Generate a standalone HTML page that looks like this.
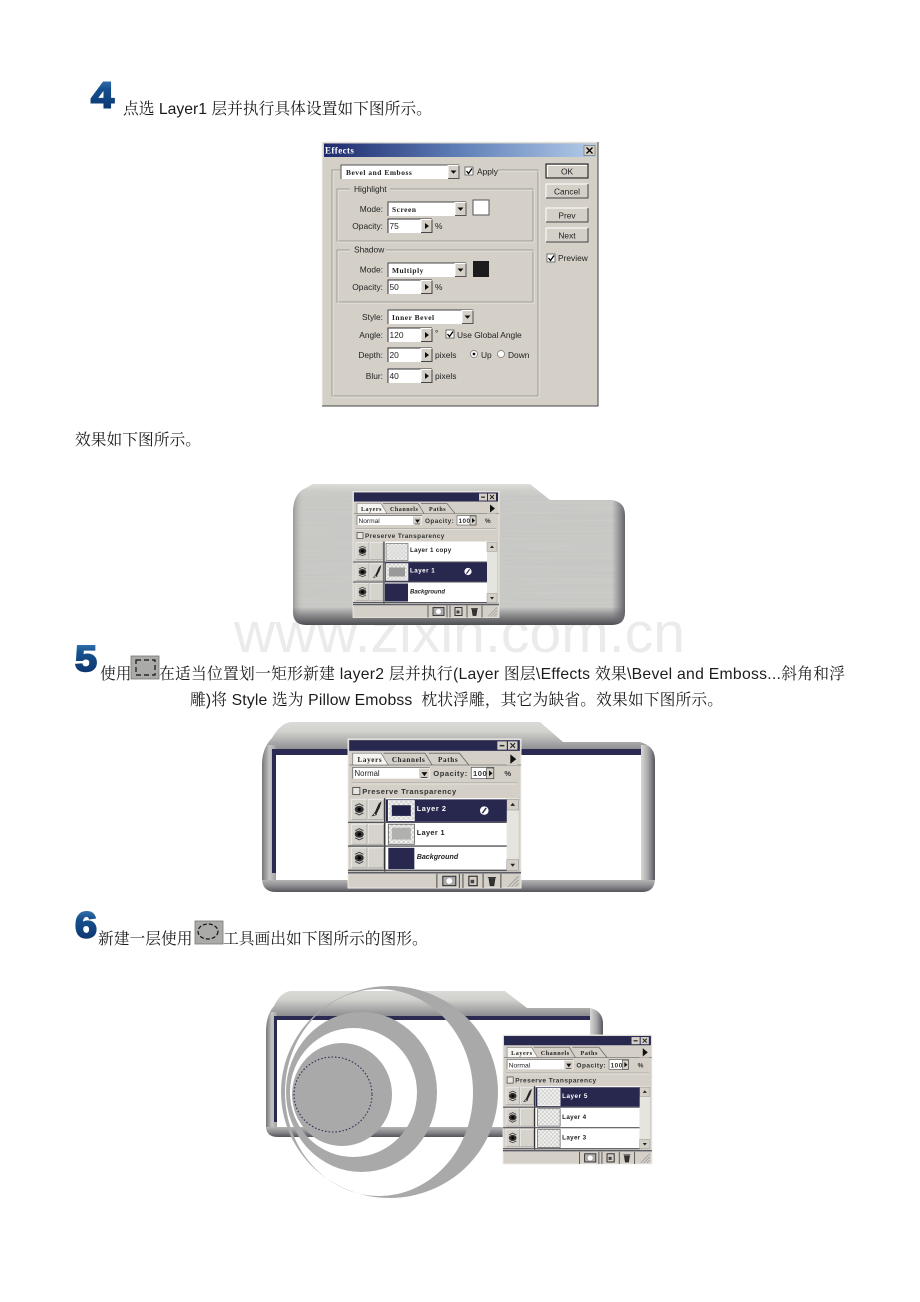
<!DOCTYPE html>
<html lang="zh-CN">
<head>
<meta charset="utf-8">
<title>Layer Effects</title>
<style>
html,body{margin:0;padding:0;background:#fff;width:920px;height:1302px;overflow:hidden}
svg{display:block}
.t{font-family:"Liberation Sans","Noto Serif CJK SC",serif;font-size:15.75px;fill:#1c1c1c}
.d{font-family:"Liberation Sans",sans-serif;font-weight:bold;font-size:36px;fill:url(#blue);stroke:url(#blue);stroke-width:1.9px}
.ui{font-family:"Liberation Sans",sans-serif;font-size:8.4px;fill:#222}
.uim{font-family:"Liberation Serif",serif;font-weight:bold;font-size:7.4px;fill:#222;letter-spacing:.55px}
.pt{font-family:"Liberation Serif",serif;font-weight:bold;font-size:6px;fill:#222;letter-spacing:.55px}
.ps{font-family:"Liberation Sans",sans-serif;font-size:6.6px;fill:#222;letter-spacing:.35px}
.pb{font-family:"Liberation Sans",sans-serif;font-weight:bold;font-size:6.2px;fill:#222;letter-spacing:.3px}
.pw{font-family:"Liberation Sans",sans-serif;font-weight:bold;font-size:6.2px;fill:#fff;letter-spacing:.5px}
.pi{font-family:"Liberation Sans",sans-serif;font-weight:bold;font-style:italic;font-size:6px;fill:#222}
.pd{font-family:"Liberation Sans",sans-serif;font-weight:bold;font-size:6.4px;fill:#333;letter-spacing:.45px}
</style>
</head>
<body>
<svg width="920" height="1302" viewBox="0 0 920 1302" xmlns="http://www.w3.org/2000/svg">
<defs>
<linearGradient id="blue" x1="0" y1="0" x2="0" y2="1">
  <stop offset="0" stop-color="#4b8cc0"/><stop offset=".35" stop-color="#15508f"/><stop offset="1" stop-color="#0b2f66"/>
</linearGradient>
<linearGradient id="title" x1="0" y1="0" x2="1" y2="0">
  <stop offset="0" stop-color="#1e2a6c"/><stop offset=".5" stop-color="#5f7fb8"/><stop offset="1" stop-color="#b4cbe8"/>
</linearGradient>
<linearGradient id="tb1" x1="0" y1="0" x2="0" y2="1"><stop offset="0" stop-color="#e2e2de"/><stop offset="1" stop-color="#c8c8c4" stop-opacity="0"/></linearGradient>
<linearGradient id="bb1" x1="0" y1="0" x2="0" y2="1"><stop offset="0" stop-color="#5a5a60" stop-opacity="0"/><stop offset=".75" stop-color="#66666a"/><stop offset="1" stop-color="#46464e"/></linearGradient>
<linearGradient id="rb1" x1="0" y1="0" x2="1" y2="0"><stop offset="0" stop-color="#6a6a70" stop-opacity="0"/><stop offset="1" stop-color="#5a5a62"/></linearGradient>
<linearGradient id="lb1" x1="0" y1="0" x2="1" y2="0"><stop offset="0" stop-color="#9a9a98"/><stop offset="1" stop-color="#c8c8c4" stop-opacity="0"/></linearGradient>
<linearGradient id="topband" x1="0" y1="0" x2="0" y2="1"><stop offset="0" stop-color="#dcdcd8"/><stop offset=".4" stop-color="#d0d0cc"/><stop offset="1" stop-color="#8c8c90"/></linearGradient>
<linearGradient id="side" x1="0" y1="0" x2="1" y2="0"><stop offset="0" stop-color="#75757a"/><stop offset=".55" stop-color="#c6c6c4"/><stop offset="1" stop-color="#a0a0a4"/></linearGradient>
<linearGradient id="sideR" x1="0" y1="0" x2="1" y2="0"><stop offset="0" stop-color="#d8d8d4"/><stop offset=".5" stop-color="#a8a8aa"/><stop offset="1" stop-color="#55555e"/></linearGradient>
<linearGradient id="botband" x1="0" y1="0" x2="0" y2="1"><stop offset="0" stop-color="#b4b4b2"/><stop offset=".5" stop-color="#8c8c90"/><stop offset="1" stop-color="#55555c"/></linearGradient>
<pattern id="chk" width="4" height="4" patternUnits="userSpaceOnUse">
  <rect width="4" height="4" fill="#f2f2f0"/><rect width="2" height="2" fill="#d2d2d0"/><rect x="2" y="2" width="2" height="2" fill="#d2d2d0"/>
</pattern>
<filter id="brush" x="0" y="0" width="100%" height="100%">
  <feTurbulence type="fractalNoise" baseFrequency=".006 .55" numOctaves="2" seed="4"/>
  <feColorMatrix values="0 0 0 0 .4  0 0 0 0 .4  0 0 0 0 .4  0 0 0 .3 -.09"/>
</filter>
<filter id="soft" x="-2%" y="-2%" width="104%" height="104%"><feGaussianBlur stdDeviation=".3"/></filter>
<clipPath id="c1"><path d="M293 512Q293 497 302 490L313 484L530 484L550 500L612 500Q625 502 625 515L625 612Q625 625 612 625L306 625Q293 625 293 612Z"/></clipPath>
<clipPath id="c2"><path d="M262 765Q262 748 272 738Q280 724 290 722L540 722L563 742L640 742Q655 746 655 760L655 878Q655 892 642 892L276 892Q262 892 262 878Z"/></clipPath>
<clipPath id="c3"><path d="M266 1032Q266 1015 274 1006Q280 993 290 991L505 991L527 1008L590 1008Q603 1011 603 1024L603 1126Q603 1137 592 1137L278 1137Q266 1137 266 1126Z"/></clipPath>

<g id="tri"><path d="M0 0L6 0L3 3.2Z" fill="#111"/></g>
<g id="btn"><rect width="11" height="13" fill="#d4d0c8"/><path d="M0 13L0 0L11 0" fill="none" stroke="#fff"/><path d="M11 0L11 13L0 13" fill="none" stroke="#555"/></g>
<g id="btnr"><rect width="11" height="13" fill="#d4d0c8"/><path d="M0 13L0 0L11 0" fill="none" stroke="#fff"/><path d="M11 0L11 13L0 13" fill="none" stroke="#444"/><path d="M4 3.5L8 6.5L4 9.5Z" fill="#111"/></g>

<g id="eye"><ellipse cx="6.5" cy="8.5" rx="3.8" ry="3" fill="#333"/><circle cx="6.5" cy="8.5" r="1.4" fill="#000"/><path d="M3 5.5L6.5 3.8L10 5.5M3 11.5L6.5 13.2L10 11.5" fill="none" stroke="#444" stroke-width=".8"/></g>
<g id="cell"><rect width="13" height="17" fill="#d6d3cc"/><path d="M0 17L0 0L13 0" fill="none" stroke="#eee" stroke-width=".7"/><path d="M13 0L13 17L0 17" fill="none" stroke="#aaa" stroke-width=".7"/></g>
<g id="fx"><circle r="3.6" fill="#fff"/><path d="M-1.6 2.2L1.6 -2.2" stroke="#28284f" stroke-width="1.2"/></g>

<g id="pbase">
  <rect width="146" height="126" fill="#d4d0c8"/>
  <rect x="0" y="0" width="146" height="126" fill="none" stroke="#efede8" stroke-width=".8"/>
  <rect x="1" y="1" width="144" height="9" fill="#28284f"/>
  <rect x="126" y="2" width="8" height="7" fill="#d4d0c8"/><rect x="128" y="5" width="4" height="1.3" fill="#333"/>
  <rect x="135" y="2" width="8" height="7" fill="#d4d0c8"/><path d="M137 3.5L141 7.5M141 3.5L137 7.5" stroke="#222" stroke-width="1"/>
  <path d="M1 22L146 22" stroke="#8a8a86" stroke-width=".8"/>
  <path d="M4 22L4 12L28 12L34 22Z" fill="#f6f5f1" stroke="#777" stroke-width=".6"/>
  <path d="M30 12L65 12L71 22M68 12L94 12L102 22" fill="none" stroke="#666" stroke-width=".7"/>
  <rect x="134" y="12" width="9" height="10" fill="#d4d0c8"/><path d="M137 13L142 17L137 21Z" fill="#111"/>
  <rect x="4" y="24" width="65" height="9.5" fill="#fff"/><path d="M4 33.5L4 24L69 24" fill="none" stroke="#666" stroke-width=".7"/>
  <rect x="60" y="25" width="8.5" height="8" fill="#d4d0c8"/><path d="M62 28L67 28L64.500 31.500Z" fill="#111"/><path d="M61.500 32.500L67 32.500" stroke="#111" stroke-width=".6"/>
  <rect x="104" y="24" width="19" height="9.5" fill="#fff" stroke="#555" stroke-width=".6"/>
  <rect x="117" y="24.500" width="6" height="9" fill="#d4d0c8" stroke="#333" stroke-width=".5"/><path d="M119 26.500L122 29L119 31.500Z" fill="#111"/>
  <path d="M3 37L143 37" stroke="#aaa8a2" stroke-width=".7"/><path d="M3 38L143 38" stroke="#f0eee8" stroke-width=".6"/>
  <rect x="4" y="41" width="6" height="6" fill="#e8e6e0" stroke="#444" stroke-width=".7"/>
  <rect x="31" y="50" width="103" height="61" fill="#fff"/>
  <path d="M31 50L31 112" stroke="#333" stroke-width="1.2"/>
  <use href="#cell" x="3" y="51"/><use href="#cell" x="17" y="51"/>
  <use href="#cell" x="3" y="72"/><use href="#cell" x="17" y="72"/>
  <use href="#cell" x="3" y="92"/><use href="#cell" x="17" y="92"/>
  <use href="#eye" x="3" y="51"/><use href="#eye" x="3" y="72"/><use href="#eye" x="3" y="92"/>
  <path d="M0 70.500L134 70.500M0 90.500L134 90.500M0 111L134 111" stroke="#55555c" stroke-width="1.1"/>
  <rect x="134" y="50" width="10" height="61" fill="#e6e4de"/>
  <rect x="134" y="51" width="10" height="9" fill="#d4d0c8" stroke="#999" stroke-width=".5"/><path d="M137 56.500L139 54L141 56.500Z" fill="#222"/>
  <rect x="134" y="102" width="10" height="9" fill="#d4d0c8" stroke="#999" stroke-width=".5"/><path d="M137 105.500L139 108L141 105.500Z" fill="#222"/>
  <path d="M0 113L146 113" stroke="#5c5c66" stroke-width="1.4"/>
  <path d="M75 114L75 126M94 114L94 126M97 114L97 126M114 114L114 126M129 114L129 126" stroke="#555" stroke-width=".9"/>
  <rect x="80" y="116" width="11" height="8" fill="#aaa" stroke="#222" stroke-width=".8"/><circle cx="85.500" cy="120" r="2.500" fill="#fff"/>
  <rect x="102" y="116" width="7" height="8" fill="#d4d0c8" stroke="#222" stroke-width=".9"/><rect x="103.500" y="119" width="3" height="3" fill="#444"/>
  <path d="M118 117L125 117M119 118L120 124L123 124L124 118Z" fill="#333" stroke="#222" stroke-width=".7"/>
  <path d="M135 125L144 116M138 125L144 119M141 125L144 122" stroke="#999" stroke-width=".7"/>
</g>
<g id="brsh"><path d="M5 13L9 4L11 2L9.500 7L6.500 13Z" fill="#222" stroke="#222" stroke-width=".5"/><path d="M3.500 14L5.500 11.500L7 13Z" fill="#fff" stroke="#222" stroke-width=".6"/></g>
</defs>

<rect width="920" height="1302" fill="#fff"/>

<!-- watermark -->
<text x="234" y="652" font-family="'Liberation Sans',sans-serif" font-size="57" fill="#ebebeb" textLength="451" lengthAdjust="spacing">www.zixin.com.cn</text>

<!-- step numerals and copy -->
<text class="d" x="91" y="107.500" textLength="23" lengthAdjust="spacingAndGlyphs">4</text>
<text class="t" x="123" y="114">点选 Layer1 层并执行具体设置如下图所示。</text>
<text class="t" x="75" y="445">效果如下图所示。</text>

<text class="d" x="75" y="671" textLength="22" lengthAdjust="spacingAndGlyphs">5</text>
<text class="t" x="100" y="679">使用</text>
<rect x="131" y="656" width="28" height="23" fill="#aaaaa8" stroke="#777" stroke-width=".8"/>
<rect x="136" y="660" width="19" height="15" fill="none" stroke="#111" stroke-width="1.2" stroke-dasharray="5 3"/>
<text class="t" x="159" y="679" textLength="686" lengthAdjust="spacing">在适当位置划一矩形新建 layer2 层并执行(Layer 图层\Effects 效果\Bevel and Emboss...斜角和浮</text>
<text class="t" x="190" y="705" textLength="533" lengthAdjust="spacing">雕)将 Style 选为 Pillow Emobss&#160;&#160;枕状浮雕，其它为缺省。效果如下图所示。</text>

<text class="d" x="75" y="937.500" textLength="22" lengthAdjust="spacingAndGlyphs">6</text>
<text class="t" x="98" y="944">新建一层使用</text>
<rect x="195" y="921" width="28" height="23" fill="#aaaaa8" stroke="#777" stroke-width=".8"/>
<ellipse cx="208" cy="931.500" rx="10" ry="7.500" fill="none" stroke="#111" stroke-width="1.2" stroke-dasharray="4 2"/>
<text class="t" x="223" y="944">工具画出如下图所示的图形。</text>

<!-- Effects dialog -->
<g filter="url(#soft)">
  <rect x="322" y="142" width="276" height="264" fill="#d4d0c8"/>
  <path d="M322 406L322 142L598 142" fill="none" stroke="#f4f2ec"/>
  <path d="M598 142L598 406L322 406" fill="none" stroke="#444"/>
  <rect x="324" y="143.500" width="272" height="13.500" fill="url(#title)"/>
  <text x="325" y="153.500" font-family="'Liberation Serif',serif" font-weight="bold" font-size="9" fill="#fff" letter-spacing=".4">Effects</text>
  <rect x="584" y="145.500" width="11" height="10" fill="#d4d0c8" stroke="#555" stroke-width=".5"/>
  <path d="M586.500 147.500L592.500 153.500M592.500 147.500L586.500 153.500" stroke="#000" stroke-width="1.3"/>

  <rect x="332" y="170" width="206" height="226" fill="none" stroke="#9c9a94"/>
  <rect x="333" y="171" width="206" height="226" fill="none" stroke="#f4f2ec" stroke-width=".6"/>
  <rect x="340" y="164" width="158" height="16" fill="#d4d0c8"/>

  <rect x="341" y="165" width="118" height="14" fill="#fff"/>
  <path d="M341 179L341 165L459 165" fill="none" stroke="#555"/>
  <use href="#btn" x="448" y="165.500"/><use href="#tri" x="450.500" y="170.500"/>
  <text class="uim" x="346" y="175">Bevel and Emboss</text>

  <rect x="465" y="167" width="8" height="8" fill="#fff" stroke="#555" stroke-width=".8"/>
  <path d="M466.500 171L468.500 173.500L472 168.500" fill="none" stroke="#000" stroke-width="1.3"/>
  <text class="ui" x="477" y="174.500">Apply</text>

  <rect x="337" y="189" width="196" height="52" fill="none" stroke="#9c9a94"/>
  <rect x="338" y="190" width="196" height="52" fill="none" stroke="#f4f2ec" stroke-width=".6"/>
  <rect x="350" y="185" width="40" height="8" fill="#d4d0c8"/>
  <text class="ui" x="354" y="192">Highlight</text>

  <text class="ui" x="383" y="212" text-anchor="end">Mode:</text>
  <rect x="388" y="202" width="78" height="14" fill="#fff"/>
  <path d="M388 216L388 202L466 202" fill="none" stroke="#444"/>
  <use href="#btn" x="455" y="202.500"/><use href="#tri" x="457.500" y="207.500"/>
  <text class="uim" x="392" y="212">Screen</text>
  <rect x="473" y="200" width="16" height="15" fill="#fff" stroke="#555"/>

  <text class="ui" x="383" y="229" text-anchor="end">Opacity:</text>
  <rect x="388" y="219" width="33" height="14" fill="#fff"/>
  <path d="M388 233L388 219L432 219" fill="none" stroke="#333"/>
  <use href="#btnr" x="421" y="219.500"/>
  <text class="ui" x="389.500" y="229">75</text>
  <text class="ui" x="435" y="229">%</text>

  <rect x="337" y="250" width="196" height="52" fill="none" stroke="#9c9a94"/>
  <rect x="338" y="251" width="196" height="52" fill="none" stroke="#f4f2ec" stroke-width=".6"/>
  <rect x="350" y="245" width="36" height="8" fill="#d4d0c8"/>
  <text class="ui" x="354" y="252.500">Shadow</text>

  <text class="ui" x="383" y="272.500" text-anchor="end">Mode:</text>
  <rect x="388" y="263" width="78" height="14" fill="#fff"/>
  <path d="M388 277L388 263L466 263" fill="none" stroke="#444"/>
  <use href="#btn" x="455" y="263.500"/><use href="#tri" x="457.500" y="268.500"/>
  <text class="uim" x="392" y="273">Multiply</text>
  <rect x="473" y="261" width="16" height="16" fill="#1c1c1c"/>

  <text class="ui" x="383" y="290" text-anchor="end">Opacity:</text>
  <rect x="388" y="280" width="33" height="14" fill="#fff"/>
  <path d="M388 294L388 280L432 280" fill="none" stroke="#333"/>
  <use href="#btnr" x="421" y="280.500"/>
  <text class="ui" x="389.500" y="290">50</text>
  <text class="ui" x="435" y="290">%</text>

  <text class="ui" x="383" y="320" text-anchor="end">Style:</text>
  <rect x="388" y="310" width="85" height="14" fill="#fff"/>
  <path d="M388 324L388 310L473 310" fill="none" stroke="#444"/>
  <use href="#btn" x="462" y="310.500"/><use href="#tri" x="464.500" y="315.500"/>
  <text class="uim" x="392" y="320">Inner Bevel</text>

  <text class="ui" x="383" y="338" text-anchor="end">Angle:</text>
  <rect x="388" y="328" width="33" height="14" fill="#fff"/>
  <path d="M388 342L388 328L432 328" fill="none" stroke="#333"/>
  <use href="#btnr" x="421" y="328.500"/>
  <text class="ui" x="389.500" y="338">120</text>
  <text class="ui" x="435" y="336">°</text>
  <rect x="446" y="330" width="8" height="8" fill="#fff" stroke="#555" stroke-width=".8"/>
  <path d="M447.500 334L449.500 336.500L453 331.500" fill="none" stroke="#000" stroke-width="1.3"/>
  <text class="ui" x="457" y="338">Use Global Angle</text>

  <text class="ui" x="383" y="358" text-anchor="end">Depth:</text>
  <rect x="388" y="348" width="33" height="14" fill="#fff"/>
  <path d="M388 362L388 348L432 348" fill="none" stroke="#333"/>
  <use href="#btnr" x="421" y="348.500"/>
  <text class="ui" x="389.500" y="358">20</text>
  <text class="ui" x="435" y="358">pixels</text>
  <circle cx="474" cy="354" r="3.500" fill="#fff" stroke="#777" stroke-width=".7"/><circle cx="474" cy="354" r="1.400" fill="#111"/>
  <text class="ui" x="481" y="358">Up</text>
  <circle cx="501" cy="354" r="3.500" fill="#fff" stroke="#777" stroke-width=".7"/>
  <text class="ui" x="508" y="358">Down</text>

  <text class="ui" x="383" y="379" text-anchor="end">Blur:</text>
  <rect x="388" y="369" width="33" height="14" fill="#fff"/>
  <path d="M388 383L388 369L432 369" fill="none" stroke="#333"/>
  <use href="#btnr" x="421" y="369.500"/>
  <text class="ui" x="389.500" y="379">40</text>
  <text class="ui" x="435" y="379">pixels</text>

  <rect x="546" y="164" width="42" height="14" fill="#d4d0c8" stroke="#111"/>
  <path d="M547.500 177L547.500 165.500L587 165.500" fill="none" stroke="#fff"/>
  <text class="ui" x="567" y="174.500" text-anchor="middle">OK</text>
  <rect x="546" y="184" width="42" height="14" fill="#d4d0c8"/>
  <path d="M546 198L546 184L588 184" fill="none" stroke="#fff"/><path d="M588 184L588 198L546 198" fill="none" stroke="#444"/>
  <text class="ui" x="567" y="194.500" text-anchor="middle">Cancel</text>
  <rect x="546" y="208" width="42" height="14" fill="#d4d0c8"/>
  <path d="M546 222L546 208L588 208" fill="none" stroke="#fff"/><path d="M588 208L588 222L546 222" fill="none" stroke="#444"/>
  <text class="ui" x="567" y="218.500" text-anchor="middle">Prev</text>
  <rect x="546" y="228" width="42" height="14" fill="#d4d0c8"/>
  <path d="M546 242L546 228L588 228" fill="none" stroke="#fff"/><path d="M588 228L588 242L546 242" fill="none" stroke="#444"/>
  <text class="ui" x="567" y="238.500" text-anchor="middle">Next</text>
  <rect x="547" y="254" width="8" height="8" fill="#fff" stroke="#555" stroke-width=".8"/>
  <path d="M548.500 258L550.500 260.500L554 255.500" fill="none" stroke="#000" stroke-width="1.3"/>
  <text class="ui" x="558" y="261">Preview</text>
</g>

<!-- Layer shape 1 -->
<g clip-path="url(#c1)" filter="url(#soft)">
  <rect x="290" y="480" width="340" height="150" fill="#cacac7"/>
  <rect x="290" y="480" width="340" height="150" filter="url(#brush)"/>
  <rect x="290" y="483" width="340" height="14" fill="url(#tb1)"/>
  <rect x="293" y="480" width="11" height="150" fill="url(#lb1)"/>
  <rect x="612" y="480" width="14" height="150" fill="url(#rb1)"/>
  <rect x="290" y="607" width="340" height="19" fill="url(#bb1)"/>
</g>

<!-- Panel 1 -->
<g transform="translate(353 491.500)">
  <use href="#pbase"/>
  <path d="M32 71H134V90H32Z" fill="#28284f"/>
  <rect x="33" y="52" width="22" height="17" fill="url(#chk)" stroke="#555" stroke-width=".6"/>
  <rect x="37" y="55" width="15" height="11" fill="#dededc" opacity=".6"/>
  <rect x="33" y="72" width="22" height="17" fill="url(#chk)" stroke="#eee" stroke-width=".6"/>
  <rect x="36" y="76" width="16" height="9" fill="#999"/>
  <rect x="32" y="92" width="23" height="18" fill="#28284f"/>
  <use href="#brsh" x="17" y="72"/>
  <use href="#fx" transform="translate(115 80)"/>
  <text class="pt" x="8" y="19.500">Layers</text>
  <text class="pt" x="37" y="19.500">Channels</text>
  <text class="pt" x="76" y="19.500">Paths</text>
  <text class="ps" x="5.500" y="31.500" style="letter-spacing:0">Normal</text>
  <text class="pd" x="72" y="31.500">Opacity:</text>
  <text class="pd" x="105.500" y="31.500">100</text>
  <text class="pd" x="132" y="31.500">%</text>
  <text class="pd" x="12" y="46.500">Preserve Transparency</text>
  <text class="pb" x="57" y="60.500">Layer 1 copy</text>
  <text class="pw" x="57" y="81">Layer 1</text>
  <text class="pi" x="57" y="102">Background</text>
</g>

<!-- Layer shape 2 -->
<g clip-path="url(#c2)" filter="url(#soft)">
  <rect x="260" y="720" width="400" height="175" fill="#b8b8b6"/>
  <rect x="260" y="720" width="400" height="30" fill="url(#topband)"/>
  <rect x="262" y="745" width="14" height="140" fill="url(#side)"/>
  <rect x="641" y="745" width="14" height="140" fill="url(#sideR)"/>
  <rect x="262" y="880" width="393" height="12" fill="url(#botband)"/>
  <rect x="272" y="749" width="369" height="6" fill="#2c2c52"/>
  <rect x="272" y="749" width="4" height="124" fill="#2c2c52"/>
  <rect x="276" y="755" width="365" height="125" fill="#fff"/>
</g>

<!-- Panel 2 -->
<g transform="translate(348 739) scale(1.185 1.183)">
  <use href="#pbase"/>
  <path d="M32 51H134V70H32Z" fill="#28284f"/>
  <rect x="34" y="52" width="22" height="17" fill="url(#chk)" stroke="#fff" stroke-width=".6"/>
  <rect x="37" y="56" width="16" height="9" fill="#222248"/>
  <rect x="34" y="72" width="22" height="17" fill="url(#chk)" stroke="#444" stroke-width=".6"/>
  <rect x="37" y="75" width="16" height="10" fill="#b0b0ae"/>
  <rect x="34" y="92" width="22" height="18" fill="#28284f"/>
  <use href="#brsh" x="17" y="51"/>
  <use href="#fx" transform="translate(115 60.500)"/>
  <text class="pt" x="8" y="19.500">Layers</text>
  <text class="pt" x="37" y="19.500">Channels</text>
  <text class="pt" x="76" y="19.500">Paths</text>
  <text class="ps" x="5.500" y="31.500" style="letter-spacing:0">Normal</text>
  <text class="pd" x="72" y="31.500">Opacity:</text>
  <text class="pd" x="105.500" y="31.500">100</text>
  <text class="pd" x="132" y="31.500">%</text>
  <text class="pd" x="12" y="46.500">Preserve Transparency</text>
  <text class="pw" x="58" y="61">Layer 2</text>
  <text class="pb" x="58" y="81">Layer 1</text>
  <text class="pi" x="58" y="101.500">Background</text>
</g>

<!-- Layer shape 3 -->
<g clip-path="url(#c3)" filter="url(#soft)">
  <rect x="264" y="989" width="342" height="150" fill="#b8b8b6"/>
  <rect x="264" y="989" width="342" height="27" fill="url(#topband)"/>
  <rect x="266" y="1012" width="11" height="118" fill="url(#side)"/>
  <rect x="590" y="1005" width="13" height="125" fill="url(#sideR)"/>
  <rect x="266" y="1127" width="337" height="10" fill="url(#botband)"/>
  <rect x="274" y="1016" width="316" height="4" fill="#2c2c52"/>
  <rect x="274" y="1016" width="3" height="106" fill="#2c2c52"/>
  <rect x="277" y="1020" width="313" height="107" fill="#fff"/>
</g>

<!-- Rings: compound paths so the frame shows through -->
<g fill="#a9a9a9" fill-rule="evenodd">
  <path d="M281 1092a108.500 106 0 1 0 217 0a108.500 106 0 1 0 -217 0ZM285 1092.500a94 103.500 0 1 0 188 0a94 103.500 0 1 0 -188 0Z"/>
  <path d="M286 1092a75.500 80 0 1 0 151 0a75.500 80 0 1 0 -151 0ZM290 1092.500a63.500 64.500 0 1 0 127 0a63.500 64.500 0 1 0 -127 0Z"/>
  <ellipse cx="342" cy="1094.500" rx="50" ry="51.500"/>
</g>
<ellipse cx="333" cy="1094.500" rx="39" ry="37.500" fill="none" stroke="#2c2c52" stroke-width="1.100" stroke-dasharray="1.500 2"/>

<!-- Panel 3 -->
<g transform="translate(503 1035) scale(1.02 1.024)">
  <use href="#pbase"/>
  <path d="M32 51H134V70H32Z" fill="#28284f"/>
  <rect x="34" y="52" width="22" height="17" fill="url(#chk)" stroke="#fff" stroke-width=".6"/>
  <rect x="34" y="72" width="22" height="17" fill="url(#chk)" stroke="#444" stroke-width=".6"/>
  <rect x="34" y="92" width="22" height="18" fill="url(#chk)" stroke="#444" stroke-width=".6"/>
  <use href="#brsh" x="17" y="51"/>
  <text class="pt" x="8" y="19.500">Layers</text>
  <text class="pt" x="37" y="19.500">Channels</text>
  <text class="pt" x="76" y="19.500">Paths</text>
  <text class="ps" x="5.500" y="31.500" style="letter-spacing:0">Normal</text>
  <text class="pd" x="72" y="31.500">Opacity:</text>
  <text class="pd" x="105.500" y="31.500">100</text>
  <text class="pd" x="132" y="31.500">%</text>
  <text class="pd" x="12" y="46.500">Preserve Transparency</text>
  <text class="pw" x="58" y="61.500">Layer 5</text>
  <text class="pb" x="58" y="82">Layer 4</text>
  <text class="pb" x="58" y="102">Layer 3</text>
</g>
</svg>
</body>
</html>
